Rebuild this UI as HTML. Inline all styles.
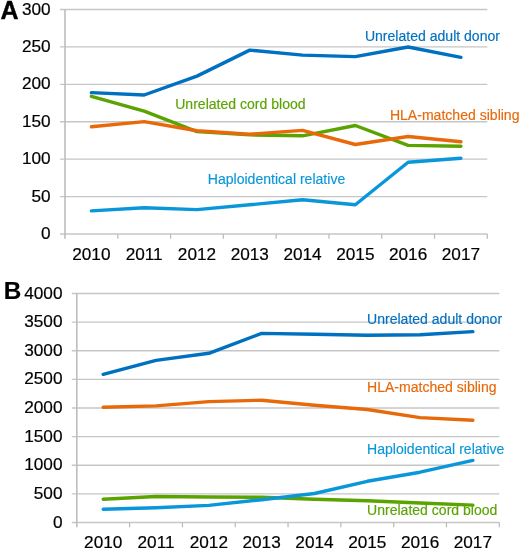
<!DOCTYPE html>
<html><head><meta charset="utf-8"><style>
html,body{margin:0;padding:0;background:#fff;}
svg{display:block;font-family:"Liberation Sans", sans-serif;will-change:transform;}
</style></head><body>
<svg width="520" height="550" viewBox="0 0 520 550">
<rect width="520" height="550" fill="#fff"/>
<line x1="60.00" y1="234.00" x2="487.30" y2="234.00" stroke="#c6c6c6" stroke-width="1.3"/>
<line x1="60.00" y1="196.58" x2="487.30" y2="196.58" stroke="#c6c6c6" stroke-width="1.3"/>
<line x1="60.00" y1="159.17" x2="487.30" y2="159.17" stroke="#c6c6c6" stroke-width="1.3"/>
<line x1="60.00" y1="121.75" x2="487.30" y2="121.75" stroke="#c6c6c6" stroke-width="1.3"/>
<line x1="60.00" y1="84.33" x2="487.30" y2="84.33" stroke="#c6c6c6" stroke-width="1.3"/>
<line x1="60.00" y1="46.92" x2="487.30" y2="46.92" stroke="#c6c6c6" stroke-width="1.3"/>
<line x1="60.00" y1="9.50" x2="487.30" y2="9.50" stroke="#c6c6c6" stroke-width="1.3"/>
<line x1="65.00" y1="9.50" x2="65.00" y2="238.80" stroke="#bdbdbd" stroke-width="1.6"/>
<line x1="117.79" y1="234.00" x2="117.79" y2="238.80" stroke="#bdbdbd" stroke-width="1.3"/>
<line x1="170.57" y1="234.00" x2="170.57" y2="238.80" stroke="#bdbdbd" stroke-width="1.3"/>
<line x1="223.36" y1="234.00" x2="223.36" y2="238.80" stroke="#bdbdbd" stroke-width="1.3"/>
<line x1="276.15" y1="234.00" x2="276.15" y2="238.80" stroke="#bdbdbd" stroke-width="1.3"/>
<line x1="328.94" y1="234.00" x2="328.94" y2="238.80" stroke="#bdbdbd" stroke-width="1.3"/>
<line x1="381.73" y1="234.00" x2="381.73" y2="238.80" stroke="#bdbdbd" stroke-width="1.3"/>
<line x1="434.51" y1="234.00" x2="434.51" y2="238.80" stroke="#bdbdbd" stroke-width="1.3"/>
<line x1="487.30" y1="234.00" x2="487.30" y2="238.80" stroke="#bdbdbd" stroke-width="1.3"/>
<text x="50.60" y="239.10" text-anchor="end" font-size="17.2" stroke="#000" stroke-width="0.2">0</text>
<text x="50.60" y="201.68" text-anchor="end" font-size="17.2" stroke="#000" stroke-width="0.2">50</text>
<text x="50.60" y="164.27" text-anchor="end" font-size="17.2" stroke="#000" stroke-width="0.2">100</text>
<text x="50.60" y="126.85" text-anchor="end" font-size="17.2" stroke="#000" stroke-width="0.2">150</text>
<text x="50.60" y="89.43" text-anchor="end" font-size="17.2" stroke="#000" stroke-width="0.2">200</text>
<text x="50.60" y="52.02" text-anchor="end" font-size="17.2" stroke="#000" stroke-width="0.2">250</text>
<text x="50.60" y="14.60" text-anchor="end" font-size="17.2" stroke="#000" stroke-width="0.2">300</text>
<text x="91.39" y="259.80" text-anchor="middle" font-size="17.2" stroke="#000" stroke-width="0.2">2010</text>
<text x="144.18" y="259.80" text-anchor="middle" font-size="17.2" stroke="#000" stroke-width="0.2">2011</text>
<text x="196.97" y="259.80" text-anchor="middle" font-size="17.2" stroke="#000" stroke-width="0.2">2012</text>
<text x="249.76" y="259.80" text-anchor="middle" font-size="17.2" stroke="#000" stroke-width="0.2">2013</text>
<text x="302.54" y="259.80" text-anchor="middle" font-size="17.2" stroke="#000" stroke-width="0.2">2014</text>
<text x="355.33" y="259.80" text-anchor="middle" font-size="17.2" stroke="#000" stroke-width="0.2">2015</text>
<text x="408.12" y="259.80" text-anchor="middle" font-size="17.2" stroke="#000" stroke-width="0.2">2016</text>
<text x="460.91" y="259.80" text-anchor="middle" font-size="17.2" stroke="#000" stroke-width="0.2">2017</text>
<polyline points="91.39,96.30 144.18,111.20 196.97,131.60 249.76,134.90 302.54,135.80 355.33,125.50 408.12,145.40 460.91,146.30" fill="none" stroke="#5ba300" stroke-width="3.4" stroke-linejoin="round" stroke-linecap="round"/>
<polyline points="91.39,92.60 144.18,95.00 196.97,76.10 249.76,50.10 302.54,55.10 355.33,56.60 408.12,47.00 460.91,57.30" fill="none" stroke="#0070c0" stroke-width="3.4" stroke-linejoin="round" stroke-linecap="round"/>
<polyline points="91.39,126.80 144.18,121.60 196.97,130.70 249.76,134.20 302.54,130.40 355.33,144.50 408.12,136.50 460.91,141.80" fill="none" stroke="#e8690a" stroke-width="3.4" stroke-linejoin="round" stroke-linecap="round"/>
<polyline points="91.39,210.90 144.18,207.80 196.97,209.60 249.76,204.80 302.54,199.80 355.33,204.80 408.12,162.20 460.91,158.20" fill="none" stroke="#0a97d9" stroke-width="3.4" stroke-linejoin="round" stroke-linecap="round"/>
<text x="175.20" y="108.90" font-size="14.05" fill="#5ba300" stroke="#5ba300" stroke-width="0.15">Unrelated cord blood</text>
<text x="364.90" y="41.40" font-size="14.05" fill="#0070c0" stroke="#0070c0" stroke-width="0.15">Unrelated adult donor</text>
<text x="389.90" y="120.40" font-size="14.05" fill="#e8690a" stroke="#e8690a" stroke-width="0.15">HLA-matched sibling</text>
<text x="207.80" y="183.60" font-size="14.05" fill="#0a97d9" stroke="#0a97d9" stroke-width="0.15">Haploidentical relative</text>
<text x="0.5" y="18.6" font-size="25" font-weight="700" stroke="#000" stroke-width="0.35">A</text>
<line x1="71.80" y1="522.50" x2="499.30" y2="522.50" stroke="#c6c6c6" stroke-width="1.3"/>
<line x1="71.80" y1="493.88" x2="499.30" y2="493.88" stroke="#c6c6c6" stroke-width="1.3"/>
<line x1="71.80" y1="465.25" x2="499.30" y2="465.25" stroke="#c6c6c6" stroke-width="1.3"/>
<line x1="71.80" y1="436.62" x2="499.30" y2="436.62" stroke="#c6c6c6" stroke-width="1.3"/>
<line x1="71.80" y1="408.00" x2="499.30" y2="408.00" stroke="#c6c6c6" stroke-width="1.3"/>
<line x1="71.80" y1="379.38" x2="499.30" y2="379.38" stroke="#c6c6c6" stroke-width="1.3"/>
<line x1="71.80" y1="350.75" x2="499.30" y2="350.75" stroke="#c6c6c6" stroke-width="1.3"/>
<line x1="71.80" y1="322.12" x2="499.30" y2="322.12" stroke="#c6c6c6" stroke-width="1.3"/>
<line x1="71.80" y1="293.50" x2="499.30" y2="293.50" stroke="#c6c6c6" stroke-width="1.3"/>
<line x1="76.80" y1="293.50" x2="76.80" y2="527.30" stroke="#bdbdbd" stroke-width="1.6"/>
<line x1="129.61" y1="522.50" x2="129.61" y2="527.30" stroke="#bdbdbd" stroke-width="1.3"/>
<line x1="182.43" y1="522.50" x2="182.43" y2="527.30" stroke="#bdbdbd" stroke-width="1.3"/>
<line x1="235.24" y1="522.50" x2="235.24" y2="527.30" stroke="#bdbdbd" stroke-width="1.3"/>
<line x1="288.05" y1="522.50" x2="288.05" y2="527.30" stroke="#bdbdbd" stroke-width="1.3"/>
<line x1="340.86" y1="522.50" x2="340.86" y2="527.30" stroke="#bdbdbd" stroke-width="1.3"/>
<line x1="393.68" y1="522.50" x2="393.68" y2="527.30" stroke="#bdbdbd" stroke-width="1.3"/>
<line x1="446.49" y1="522.50" x2="446.49" y2="527.30" stroke="#bdbdbd" stroke-width="1.3"/>
<line x1="499.30" y1="522.50" x2="499.30" y2="527.30" stroke="#bdbdbd" stroke-width="1.3"/>
<text x="62.50" y="527.60" text-anchor="end" font-size="17.2" stroke="#000" stroke-width="0.2">0</text>
<text x="62.50" y="498.98" text-anchor="end" font-size="17.2" stroke="#000" stroke-width="0.2">500</text>
<text x="62.50" y="470.35" text-anchor="end" font-size="17.2" stroke="#000" stroke-width="0.2">1000</text>
<text x="62.50" y="441.73" text-anchor="end" font-size="17.2" stroke="#000" stroke-width="0.2">1500</text>
<text x="62.50" y="413.10" text-anchor="end" font-size="17.2" stroke="#000" stroke-width="0.2">2000</text>
<text x="62.50" y="384.48" text-anchor="end" font-size="17.2" stroke="#000" stroke-width="0.2">2500</text>
<text x="62.50" y="355.85" text-anchor="end" font-size="17.2" stroke="#000" stroke-width="0.2">3000</text>
<text x="62.50" y="327.23" text-anchor="end" font-size="17.2" stroke="#000" stroke-width="0.2">3500</text>
<text x="62.50" y="298.60" text-anchor="end" font-size="17.2" stroke="#000" stroke-width="0.2">4000</text>
<text x="103.21" y="548.30" text-anchor="middle" font-size="17.2" stroke="#000" stroke-width="0.2">2010</text>
<text x="156.02" y="548.30" text-anchor="middle" font-size="17.2" stroke="#000" stroke-width="0.2">2011</text>
<text x="208.83" y="548.30" text-anchor="middle" font-size="17.2" stroke="#000" stroke-width="0.2">2012</text>
<text x="261.64" y="548.30" text-anchor="middle" font-size="17.2" stroke="#000" stroke-width="0.2">2013</text>
<text x="314.46" y="548.30" text-anchor="middle" font-size="17.2" stroke="#000" stroke-width="0.2">2014</text>
<text x="367.27" y="548.30" text-anchor="middle" font-size="17.2" stroke="#000" stroke-width="0.2">2015</text>
<text x="420.08" y="548.30" text-anchor="middle" font-size="17.2" stroke="#000" stroke-width="0.2">2016</text>
<text x="472.89" y="548.30" text-anchor="middle" font-size="17.2" stroke="#000" stroke-width="0.2">2017</text>
<polyline points="103.21,499.20 156.02,496.50 208.83,497.00 261.64,497.30 314.46,499.20 367.27,500.80 420.08,503.00 472.89,505.10" fill="none" stroke="#5ba300" stroke-width="3.4" stroke-linejoin="round" stroke-linecap="round"/>
<polyline points="103.21,374.30 156.02,360.40 208.83,353.30 261.64,333.40 314.46,334.20 367.27,335.30 420.08,334.70 472.89,331.60" fill="none" stroke="#0070c0" stroke-width="3.4" stroke-linejoin="round" stroke-linecap="round"/>
<polyline points="103.21,407.20 156.02,405.90 208.83,401.60 261.64,400.20 314.46,405.20 367.27,409.50 420.08,417.60 472.89,420.20" fill="none" stroke="#e8690a" stroke-width="3.4" stroke-linejoin="round" stroke-linecap="round"/>
<polyline points="103.21,509.30 156.02,507.80 208.83,505.40 261.64,499.70 314.46,493.50 367.27,481.30 420.08,472.20 472.89,460.40" fill="none" stroke="#0a97d9" stroke-width="3.4" stroke-linejoin="round" stroke-linecap="round"/>
<text x="367.00" y="515.00" font-size="14.05" fill="#5ba300" stroke="#5ba300" stroke-width="0.15">Unrelated cord blood</text>
<text x="367.00" y="323.80" font-size="14.05" fill="#0070c0" stroke="#0070c0" stroke-width="0.15">Unrelated adult donor</text>
<text x="367.00" y="392.30" font-size="14.05" fill="#e8690a" stroke="#e8690a" stroke-width="0.15">HLA-matched sibling</text>
<text x="367.00" y="454.20" font-size="14.05" fill="#0a97d9" stroke="#0a97d9" stroke-width="0.15">Haploidentical relative</text>
<text x="3.7" y="298.5" font-size="24.3" font-weight="700" stroke="#000" stroke-width="0.2">B</text>
</svg>
</body></html>
